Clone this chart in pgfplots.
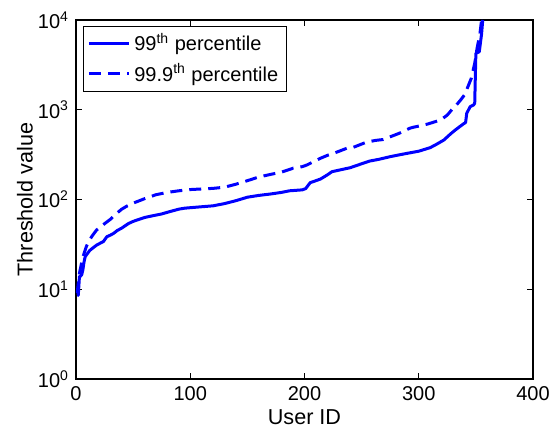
\documentclass[border=0pt]{standalone}
\usepackage{fontspec}
\setmainfont{Liberation Sans}
\usepackage{pgfplots}
\pgfplotsset{compat=1.18}

% per-user thresholds, users sorted by the 99th percentile value
\pgfplotstableread{
x y
1 8.5
2 8.6
3 13.8
4 14
5 14.5
6 16.4
7 20
8 23
10 25
12 27
15 29
18 31
21 32.5
24 34
27 38.5
30 40
33 42
36 45
40 48
46 54
50 57
55 60
60 63
65 65
70 67
75 69
80 72
85 75
90 78
95 80
100 81
110 83
120 85
130 90
140 97
150 106
160 111
170 115
180 120
187 125
198 128
201 132
205 154
210 162
214 169
220 188
224 204
230 212
240 226
250 250
257 268
265 280
275 300
285 318
290 327
300 345
310 378
316 415
322 460
328 540
332 595
336 650
339 694
341 720
342 912
345 1082
348 1130
349 1180
350 4250
353 4430
355 7000
356 10000
}\pninetynine

\pgfplotstableread{
x y
1 9
3 15
5 20
7 25
9 29.8
11 33.9
14 39
18 45.7
22 50
26 55
30 60
35 69
40 78
45 85
50 91
60 102
70 113
80 120
90 125
100 129
110 131
120 133
130 137
140 148
150 162
160 178
170 190
180 202
190 223
198 232
202 242
210 272
214 288
220 310
228 336
237 372
242 378
254 434
262 455
269 466
276 505
283 547
292 621
295 637
302 665
308 694
315 740
320 783
325 872
330 1038
333 1130
337 1300
340 1460
343 1800
346 2240
349 3296
351 4800
353.6 7110
355 10000
}\pninetyninenine

\begin{document}
\begin{tikzpicture}
\useasboundingbox (-38pt,-26pt) rectangle (241.5pt,189.5pt);
\begin{axis}[
  at={(0,0)}, anchor=south west,
  scale only axis,
  width=228.5pt, height=179.5pt,
  xmin=0, xmax=400,
  ymode=log, log basis y=10,
  ymin=1, ymax=10000,
  xtick={0,100,200,300,400},
  ytick={1,10,100,1000,10000},
  yticklabels={10\textsuperscript{0},10\textsuperscript{1},10\textsuperscript{2},10\textsuperscript{3},10\textsuperscript{4}},
  /pgf/number format/assume math mode=true,
  tick align=inside,
  major tick length=3pt,
  minor tick length=2pt,
  tick style={black, line width=0.4pt},
  axis line style={line width=0.6pt},
  ticklabel style={font=\fontsize{10}{12}\selectfont},
  xlabel={User ID},
  ylabel={Threshold value},
  label style={font=\fontsize{10.8}{13}\selectfont},
  xlabel style={at={(axis description cs:0.5,-0.1072)}, anchor=center},
  ylabel style={at={(axis description cs:-0.1116,0.5)}, anchor=center},
  legend style={
    at={(axis description cs:0.0153,0.984)}, anchor=north west,
    font=\fontsize{10}{12}\selectfont,
    draw=black, line width=0.5pt,
    inner xsep=2pt, inner ysep=1.5pt,
    row sep=1pt,
  },
  legend cell align=left,
  legend image code/.code={\draw[#1] (0cm,0cm) -- (0.7cm,0cm);},
]
\addplot[blue, line width=1.5pt, line join=round] table {\pninetynine};
\addlegendentry{99\textsuperscript{th} percentile}
\addplot[blue, line width=1.5pt, dash pattern=on 6pt off 3.5pt] table {\pninetyninenine};
\addlegendentry{99.9\textsuperscript{th} percentile}
\end{axis}
\end{tikzpicture}
\end{document}
